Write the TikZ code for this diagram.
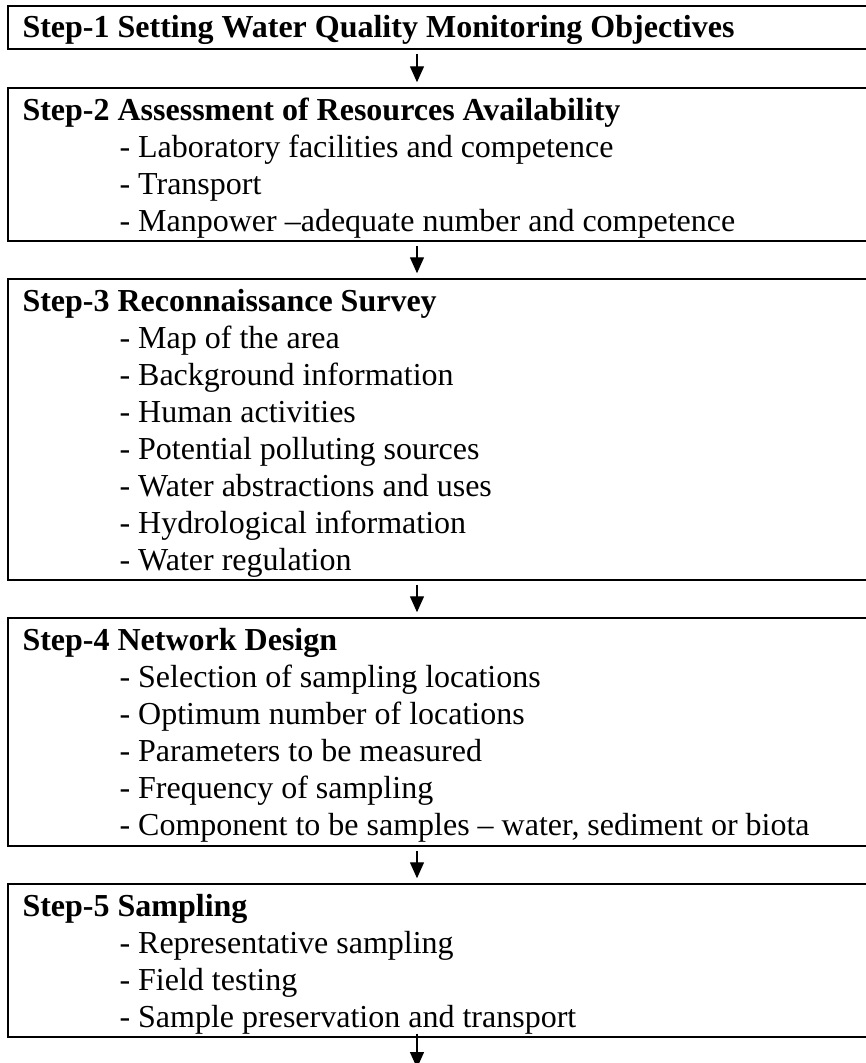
\documentclass[tikz,border=0pt]{standalone}
\usepackage{fontspec}
\setmainfont{Liberation Serif}
\usetikzlibrary{arrows.meta,fit}
\begin{document}
\begin{tikzpicture}[x=0.375pt,y=-0.375pt,
  box/.style={draw=black,line width=0.5pt,inner sep=0pt,rectangle},
  hdr/.style={anchor=base west,inner sep=0pt,font=\fontsize{12}{14}\selectfont\bfseries},
  itm/.style={anchor=base west,inner sep=0pt,font=\fontsize{12}{14}\selectfont},
  arr/.style={draw=black,line width=0.5pt,-{Triangle[length=6pt,width=5.25pt]}}]
\useasboundingbox (0,0) rectangle (866,1063);
\clip (0,0) rectangle (866,1063);
\coordinate (ax) at (417,0);
% boxes
\node[box,fit={(8,6) (880,49)}] (b1) {};
\node[box,fit={(8,88) (880,241)}] (b2) {};
\node[box,fit={(8,279) (880,580)}] (b3) {};
\node[box,fit={(8,618) (880,846)}] (b4) {};
\node[box,fit={(8,884) (880,1037)}] (b5) {};
% step 1
\node[hdr] (h1) at (22,37) {Step-1 Setting Water Quality Monitoring Objectives};
% step 2
\node[hdr] (h2) at (22,120) {Step-2 Assessment of Resources Availability};
\node[itm] (t21) at (119,157) {- Laboratory facilities and competence};
\node[itm] (t22) at (119,194) {- Transport};
\node[itm] (t23) at (119,231) {- Manpower –adequate number and competence};
% step 3
\node[hdr] (h3) at (22,311) {Step-3 Reconnaissance Survey};
\node[itm] (t31) at (119,348) {- Map of the area};
\node[itm] (t32) at (119,385) {- Background information};
\node[itm] (t33) at (119,422) {- Human activities};
\node[itm] (t34) at (119,459) {- Potential polluting sources};
\node[itm] (t35) at (119,496) {- Water abstractions and uses};
\node[itm] (t36) at (119,533) {- Hydrological information};
\node[itm] (t37) at (119,570) {- Water regulation};
% step 4
\node[hdr] (h4) at (22,650) {Step-4 Network Design};
\node[itm] (t41) at (119,687) {- Selection of sampling locations};
\node[itm] (t42) at (119,724) {- Optimum number of locations};
\node[itm] (t43) at (119,761) {- Parameters to be measured};
\node[itm] (t44) at (119,798) {- Frequency of sampling};
\node[itm] (t45) at (119,835) {- Component to be samples – water, sediment or biota};
% step 5
\node[hdr] (h5) at (22,916) {Step-5 Sampling};
\node[itm] (t51) at (119,953) {- Representative sampling};
\node[itm] (t52) at (119,990) {- Field testing};
\node[itm] (t53) at (119,1027) {- Sample preservation and transport};
% arrows
\coordinate (end) at (417,1068);
\draw[arr,shorten <=1.5pt,shorten >=1.9pt] (b1.south -| ax) -- (b2.north -| ax);
\draw[arr,shorten <=1.5pt,shorten >=1.9pt] (b2.south -| ax) -- (b3.north -| ax);
\draw[arr,shorten <=1.5pt,shorten >=1.9pt] (b3.south -| ax) -- (b4.north -| ax);
\draw[arr,shorten <=1.5pt,shorten >=1.9pt] (b4.south -| ax) -- (b5.north -| ax);
\draw[arr,shorten <=-1.5pt] (b5.south -| ax) -- (end);
\end{tikzpicture}
\end{document}
